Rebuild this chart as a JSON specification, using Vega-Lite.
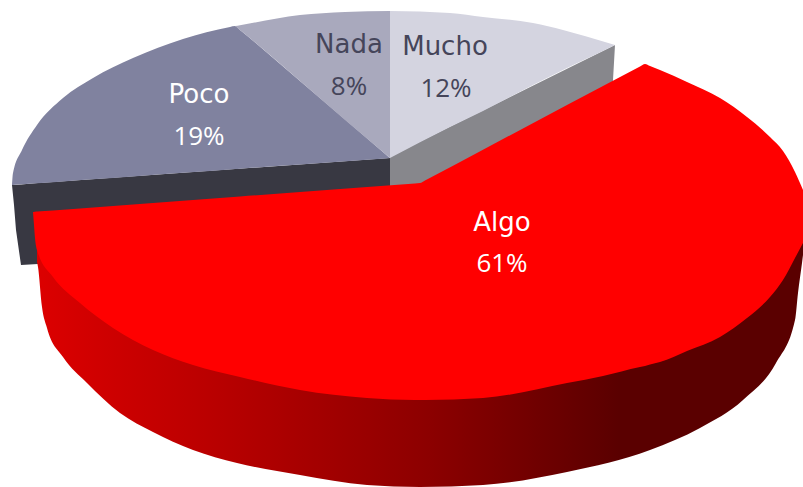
{
"$schema":"https://vega.github.io/schema/vega-lite/v6.json",
"width":803,"height":487,"padding":0,"autosize":{"type":"none"},
"background":"white",
"view":{"stroke":null},
"datasets":{
"poco":[{"x":12,"y":185,"y2":185},{"x":13,"y":173,"y2":184.9},{"x":22,"y":150,"y2":184.3},{"x":37,"y":125,"y2":183.2},{"x":63,"y":98,"y2":181.4},{"x":93,"y":78,"y2":179.2},{"x":133,"y":58,"y2":176.4},{"x":183,"y":39,"y2":172.8},{"x":230,"y":27,"y2":169.5},{"x":235,"y":26,"y2":169.1},{"x":240,"y":30,"y2":168.7},{"x":300,"y":81,"y2":164.4},{"x":385,"y":153.7,"y2":158.4},{"x":390,"y":158,"y2":158}],
"nada":[{"x":235,"y":26,"y2":26},{"x":240,"y":25.2,"y2":30},{"x":300,"y":15,"y2":81},{"x":345,"y":12,"y2":120},{"x":390,"y":11,"y2":158}],
"mucho":[{"x":390,"y":11,"y2":158},{"x":450,"y":13,"y2":127},{"x":483,"y":17,"y2":111},{"x":533,"y":23,"y2":85},{"x":563,"y":30,"y2":70},{"x":610,"y":43.5,"y2":47.5},{"x":615,"y":45,"y2":45}],
"greyside":[{"x":390,"y":157,"y2":195},{"x":425,"y":139,"y2":195},{"x":612,"y":46.5,"y2":90},{"x":613,"y":46,"y2":80},{"x":615,"y":45,"y2":45}],
"darkside":[{"x":12,"y":185,"y2":185},{"x":14,"y":184.9,"y2":205},{"x":16,"y":184.7,"y2":230},{"x":21,"y":184.4,"y2":265},{"x":38,"y":183.1,"y2":264},{"x":39,"y":183,"y2":215},{"x":390,"y":158,"y2":190}],
"redside":[{"x":37,"y":250,"y2":262},{"x":38,"y":250,"y2":267},{"x":42,"y":240,"y2":307},{"x":47,"y":230,"y2":328},{"x":63,"y":230,"y2":357},{"x":87,"y":230,"y2":383},{"x":120,"y":230,"y2":413},{"x":153,"y":230,"y2":432},{"x":193,"y":230,"y2":450},{"x":237,"y":230,"y2":463},{"x":300,"y":230,"y2":475},{"x":367,"y":230,"y2":485},{"x":420,"y":230,"y2":487},{"x":483,"y":230,"y2":485},{"x":567,"y":230,"y2":472},{"x":650,"y":230,"y2":450},{"x":700,"y":230,"y2":428},{"x":743,"y":230,"y2":400},{"x":776,"y":230,"y2":363},{"x":795,"y":230,"y2":320},{"x":798,"y":230,"y2":293},{"x":802,"y":230,"y2":263},{"x":803,"y":230,"y2":255}],
"redface":[{"x":33,"y":212,"y2":212},{"x":34,"y":211.9,"y2":225},{"x":35,"y":211.8,"y2":238},{"x":37,"y":211.6,"y2":250},{"x":53,"y":210.4,"y2":277},{"x":80,"y":208.4,"y2":303},{"x":113,"y":206,"y2":328},{"x":153,"y":203,"y2":350},{"x":193,"y":200,"y2":365},{"x":240,"y":196.5,"y2":377},{"x":300,"y":192,"y2":390},{"x":367,"y":187,"y2":398},{"x":415,"y":183.4,"y2":400},{"x":420,"y":183,"y2":400},{"x":425,"y":180.4,"y2":400},{"x":483,"y":149.7,"y2":398},{"x":567,"y":105,"y2":383},{"x":603,"y":86,"y2":376},{"x":640,"y":66.6,"y2":367},{"x":645,"y":64,"y2":366},{"x":650,"y":66,"y2":364.5},{"x":660,"y":70,"y2":362},{"x":687,"y":82,"y2":351},{"x":720,"y":98,"y2":337},{"x":747,"y":117,"y2":318},{"x":770,"y":137,"y2":297},{"x":783,"y":151,"y2":280},{"x":795,"y":172,"y2":258},{"x":803,"y":190,"y2":243}],
"darklabels":[{"x":349,"y":53,"t":"Nada"},{"x":445,"y":55,"t":"Mucho"}],
"darkpct":[{"x":349,"y":95,"t":"8%"},{"x":446,"y":97,"t":"12%"}],
"whitelabels":[{"x":199,"y":103,"t":"Poco"},{"x":502,"y":231,"t":"Algo"}],
"whitepct":[{"x":199,"y":145,"t":"19%"},{"x":502,"y":272,"t":"61%"}]
},
"encoding":{
"x":{"field":"x","type":"quantitative","scale":{"domain":[0,803],"nice":false,"zero":false},"axis":null},
"y":{"field":"y","type":"quantitative","scale":{"domain":[487,0],"nice":false,"zero":false},"axis":null}
},
"layer":[
{"data":{"name":"greyside"},"mark":{"type":"area","color":"#87878c"},"encoding":{"y2":{"field":"y2"}}},
{"data":{"name":"darkside"},"mark":{"type":"area","color":"#383842"},"encoding":{"y2":{"field":"y2"}}},
{"data":{"name":"poco"},"mark":{"type":"area","color":"#80829f","interpolate":"monotone"},"encoding":{"y2":{"field":"y2"}}},
{"data":{"name":"nada"},"mark":{"type":"area","color":"#a9a9bd","interpolate":"monotone"},"encoding":{"y2":{"field":"y2"}}},
{"data":{"name":"mucho"},"mark":{"type":"area","color":"#d4d4e0","interpolate":"monotone"},"encoding":{"y2":{"field":"y2"}}},
{"data":{"name":"redside"},"mark":{"type":"area","interpolate":"monotone","color":{"gradient":"linear","x1":0,"y1":0,"x2":1,"y2":0,"stops":[{"offset":0,"color":"#dc0000"},{"offset":0.265,"color":"#b40000"},{"offset":0.513,"color":"#8c0000"},{"offset":0.76,"color":"#5a0000"},{"offset":1,"color":"#5a0000"}]}},"encoding":{"y2":{"field":"y2"}}},
{"data":{"name":"redface"},"mark":{"type":"area","color":"#ff0000","interpolate":"monotone"},"encoding":{"y2":{"field":"y2"}}},
{"data":{"name":"darklabels"},"mark":{"type":"text","font":"DejaVu Sans","fontSize":26,"align":"center","baseline":"alphabetic","color":"#45455a"},"encoding":{"text":{"field":"t"}}},
{"data":{"name":"darkpct"},"mark":{"type":"text","font":"Open Sans","fontSize":26,"align":"center","baseline":"alphabetic","color":"#45455a"},"encoding":{"text":{"field":"t"}}},
{"data":{"name":"whitelabels"},"mark":{"type":"text","font":"DejaVu Sans","fontSize":26,"align":"center","baseline":"alphabetic","color":"#ffffff"},"encoding":{"text":{"field":"t"}}},
{"data":{"name":"whitepct"},"mark":{"type":"text","font":"Open Sans","fontSize":26,"align":"center","baseline":"alphabetic","color":"#ffffff"},"encoding":{"text":{"field":"t"}}}
]
}
